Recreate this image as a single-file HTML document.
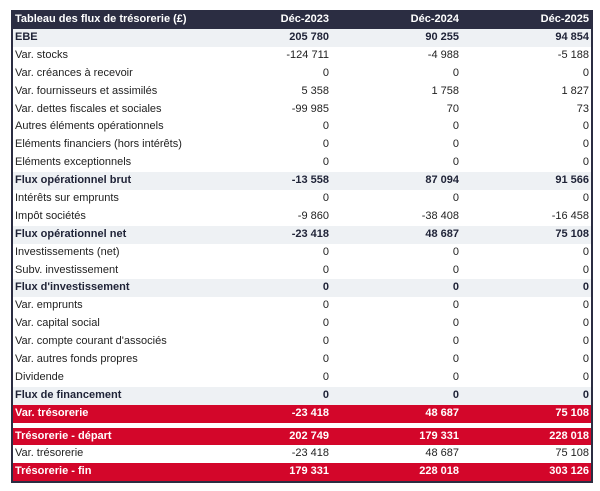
<!DOCTYPE html>
<html><head><meta charset="utf-8"><style>
body{margin:0;background:#fff;width:600px;height:491px;overflow:hidden;font-family:"Liberation Sans",sans-serif;font-size:11px;color:#222}
.t{position:absolute;left:11px;top:10px;width:578px;border:2px solid #2b2d42;border-top:0;background:#fff}
.r{display:flex;height:17.9px;line-height:17.9px}
.r div{box-sizing:border-box}
.l{flex:0 0 188px;padding-left:2px}
.v{flex:0 0 130px;text-align:right;padding-right:2px}
.h{background:#2b2d42;color:#fff;font-weight:bold;height:19px;line-height:19px}
.b{background:#eef1f4;font-weight:bold;color:#1f2337}
.red{background:#d3062a;color:#fff;font-weight:bold}
.gap{height:5px;background:#fff}
</style></head><body>
<div class="t">
<div class="r h"><div class="l" style="flex-basis:188px">Tableau des flux de trésorerie (£)</div><div class="v">Déc-2023</div><div class="v">Déc-2024</div><div class="v">Déc-2025</div></div>
<div class="r b"><div class="l">EBE</div><div class="v">205 780</div><div class="v">90 255</div><div class="v">94 854</div></div>
<div class="r"><div class="l">Var. stocks</div><div class="v">-124 711</div><div class="v">-4 988</div><div class="v">-5 188</div></div>
<div class="r"><div class="l">Var. créances à recevoir</div><div class="v">0</div><div class="v">0</div><div class="v">0</div></div>
<div class="r"><div class="l">Var. fournisseurs et assimilés</div><div class="v">5 358</div><div class="v">1 758</div><div class="v">1 827</div></div>
<div class="r"><div class="l">Var. dettes fiscales et sociales</div><div class="v">-99 985</div><div class="v">70</div><div class="v">73</div></div>
<div class="r"><div class="l">Autres éléments opérationnels</div><div class="v">0</div><div class="v">0</div><div class="v">0</div></div>
<div class="r"><div class="l">Eléments financiers (hors intérêts)</div><div class="v">0</div><div class="v">0</div><div class="v">0</div></div>
<div class="r"><div class="l">Eléments exceptionnels</div><div class="v">0</div><div class="v">0</div><div class="v">0</div></div>
<div class="r b"><div class="l">Flux opérationnel brut</div><div class="v">-13 558</div><div class="v">87 094</div><div class="v">91 566</div></div>
<div class="r"><div class="l">Intérêts sur emprunts</div><div class="v">0</div><div class="v">0</div><div class="v">0</div></div>
<div class="r"><div class="l">Impôt sociétés</div><div class="v">-9 860</div><div class="v">-38 408</div><div class="v">-16 458</div></div>
<div class="r b"><div class="l">Flux opérationnel net</div><div class="v">-23 418</div><div class="v">48 687</div><div class="v">75 108</div></div>
<div class="r"><div class="l">Investissements (net)</div><div class="v">0</div><div class="v">0</div><div class="v">0</div></div>
<div class="r"><div class="l">Subv. investissement</div><div class="v">0</div><div class="v">0</div><div class="v">0</div></div>
<div class="r b"><div class="l">Flux d'investissement</div><div class="v">0</div><div class="v">0</div><div class="v">0</div></div>
<div class="r"><div class="l">Var. emprunts</div><div class="v">0</div><div class="v">0</div><div class="v">0</div></div>
<div class="r"><div class="l">Var. capital social</div><div class="v">0</div><div class="v">0</div><div class="v">0</div></div>
<div class="r"><div class="l">Var. compte courant d'associés</div><div class="v">0</div><div class="v">0</div><div class="v">0</div></div>
<div class="r"><div class="l">Var. autres fonds propres</div><div class="v">0</div><div class="v">0</div><div class="v">0</div></div>
<div class="r"><div class="l">Dividende</div><div class="v">0</div><div class="v">0</div><div class="v">0</div></div>
<div class="r b"><div class="l">Flux de financement</div><div class="v">0</div><div class="v">0</div><div class="v">0</div></div>
<div class="r red"><div class="l">Var. trésorerie</div><div class="v">-23 418</div><div class="v">48 687</div><div class="v">75 108</div></div>
<div class="gap"></div>
<div class="r red"><div class="l">Trésorerie - départ</div><div class="v">202 749</div><div class="v">179 331</div><div class="v">228 018</div></div>
<div class="r"><div class="l">Var. trésorerie</div><div class="v">-23 418</div><div class="v">48 687</div><div class="v">75 108</div></div>
<div class="r red"><div class="l">Trésorerie - fin</div><div class="v">179 331</div><div class="v">228 018</div><div class="v">303 126</div></div>
</div>
</body></html>
